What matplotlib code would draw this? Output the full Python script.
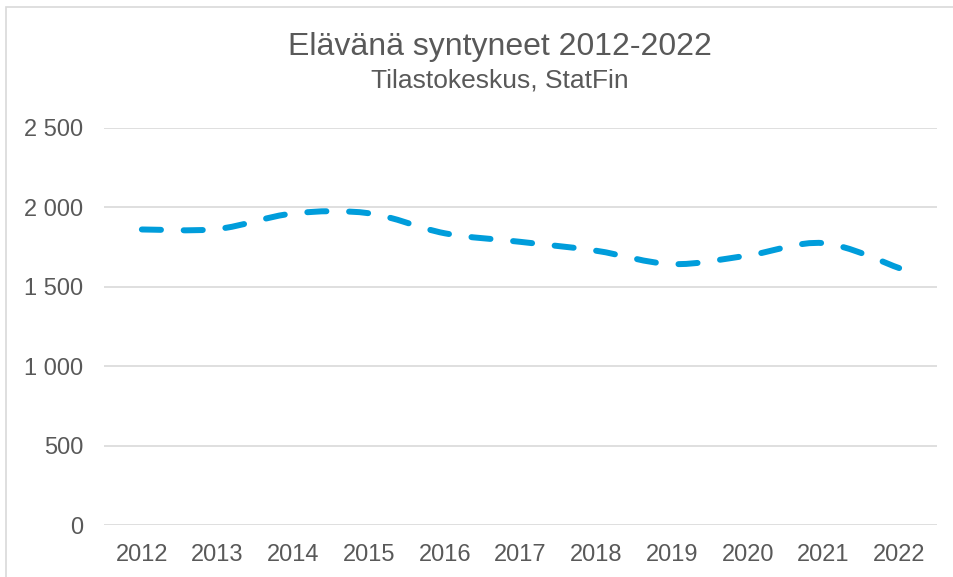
import numpy as np
import matplotlib.pyplot as plt
from matplotlib.path import Path
from matplotlib.patches import PathPatch, Rectangle

years = ['2012', '2013', '2014', '2015', '2016', '2017', '2018', '2019', '2020', '2021', '2022']
births = [1861, 1864, 1962, 1963, 1837, 1783, 1727, 1643, 1697, 1775, 1618]
yticks = [0, 500, 1000, 1500, 2000, 2500]
ytick_labels = ['0', '500', '1 000', '1 500', '2 000', '2 500']

plt.rcParams['font.family'] = ['Liberation Sans', 'DejaVu Sans']
txt = '#595959'

def smooth_path(x, y, t=1/6.):
    # excel-like smoothed line: cubic bezier through every point
    x = np.asarray(x, float)
    y = np.asarray(y, float)
    n = len(x)
    verts = [(x[0], y[0])]
    codes = [Path.MOVETO]
    for i in range(n - 1):
        p0 = (x[max(i - 1, 0)], y[max(i - 1, 0)])
        p1 = (x[i], y[i])
        p2 = (x[i + 1], y[i + 1])
        p3 = (x[min(i + 2, n - 1)], y[min(i + 2, n - 1)])
        c1 = (p1[0] + (p2[0] - p0[0]) * t, p1[1] + (p2[1] - p0[1]) * t)
        c2 = (p2[0] - (p3[0] - p1[0]) * t, p2[1] - (p3[1] - p1[1]) * t)
        verts += [c1, c2, p2]
        codes += [Path.CURVE4] * 3
    return Path(verts, codes)

fig = plt.figure(figsize=(9.54, 5.77), dpi=100)
fig.patches.append(Rectangle((6 / 954, -0.1), 1.2, 1 - 7 / 577 + 0.1, transform=fig.transFigure,
                             fill=False, edgecolor='#d9d9d9', linewidth=1.2))
ax = fig.add_axes([104 / 954, 1 - 525 / 577, (937 - 104) / 954, (525 - 128) / 577])

x = np.arange(len(years))
ax.add_patch(PathPatch(smooth_path(x, births), fill=False, edgecolor='#009ddb',
                       linewidth=4.3, linestyle=(0, (3.2, 3.8)), capstyle='round'))

ax.set_xlim(-0.5, len(years) - 0.5)
ax.set_ylim(0, 2500)
ax.set_yticks(yticks)
ax.set_yticklabels(ytick_labels)
ax.set_xticks(x)
ax.set_xticklabels(years)
ax.tick_params(axis='both', length=0, labelsize=17, colors=txt)
ax.tick_params(axis='y', pad=15)
ax.tick_params(axis='x', pad=14)
ax.grid(axis='y', color='#d9d9d9', linewidth=1.2)
ax.set_axisbelow(True)
for s in ax.spines.values():
    s.set_visible(False)

fig.text(500 / 954, 1 - 55 / 577, 'Elävänä syntyneet 2012-2022', ha='center', va='baseline',
         fontsize=23, color=txt)
fig.text(500 / 954, 1 - 87 / 577, 'Tilastokeskus, StatFin', ha='center', va='baseline',
         fontsize=19, color=txt)

fig.savefig('out.png', dpi=100)
